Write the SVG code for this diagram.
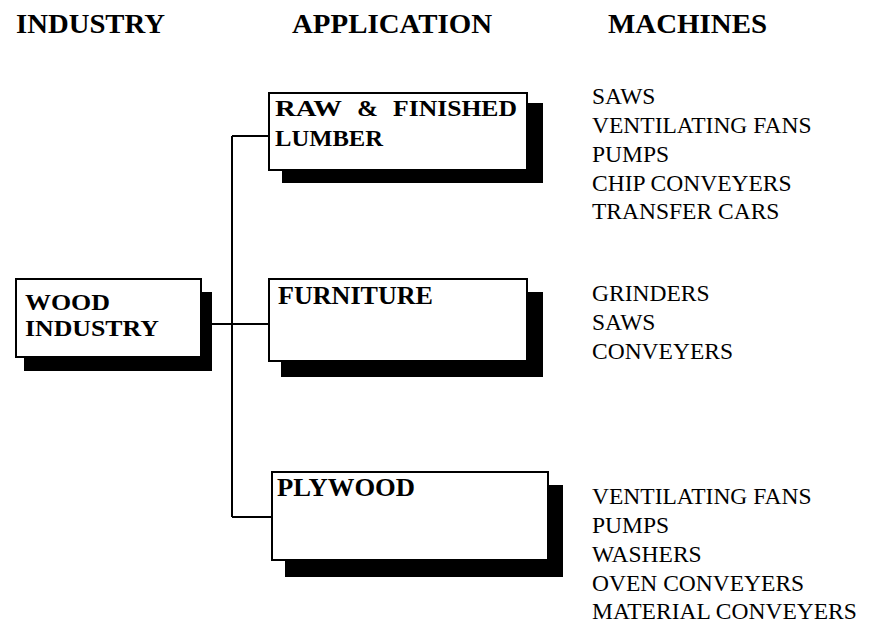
<svg xmlns="http://www.w3.org/2000/svg" width="870" height="625" viewBox="0 0 870 625">
<style>
.head{font-family:"Liberation Serif","Times New Roman",serif;font-weight:bold;font-size:28px;fill:#000}
.lbl{font-family:"Liberation Serif","Times New Roman",serif;font-weight:bold;font-size:26px;fill:#000}
.lbl2{font-family:"Liberation Serif","Times New Roman",serif;font-weight:bold;font-size:24px;fill:#000}
.mach{font-family:"Liberation Serif","Times New Roman",serif;font-size:23.5px;fill:#000}
.box{fill:#fff;stroke:#000;stroke-width:2}
.shadow{fill:#000}
.conn{fill:none;stroke:#000;stroke-width:2}
</style>
<rect width="870" height="625" fill="#fff"/>
<g id="headings">
<text class="head" x="16" y="33" textLength="149" lengthAdjust="spacingAndGlyphs">INDUSTRY</text>
<text class="head" x="292" y="33" textLength="200" lengthAdjust="spacingAndGlyphs">APPLICATION</text>
<text class="head" x="608" y="33" textLength="159" lengthAdjust="spacingAndGlyphs">MACHINES</text>
</g>
<g id="connectors">
<path class="conn" d="M232 136 V517"/>
<path class="conn" d="M232 136 H269"/>
<path class="conn" d="M212 324 H269"/>
<path class="conn" d="M232 517 H272"/>
</g>
<g id="wood-industry">
<rect class="shadow" x="24" y="292" width="188" height="79"/>
<rect class="box" x="16" y="279" width="185" height="78"/>
<text class="lbl2" x="25" y="310" textLength="85" lengthAdjust="spacingAndGlyphs">WOOD</text>
<text class="lbl2" x="25" y="336" textLength="134" lengthAdjust="spacingAndGlyphs">INDUSTRY</text>
</g>
<g id="raw-finished-lumber">
<rect class="shadow" x="282" y="103" width="261" height="80"/>
<rect class="box" x="269" y="93" width="258" height="77"/>
<text class="lbl2" y="116"><tspan x="275" textLength="67" lengthAdjust="spacingAndGlyphs">RAW</tspan><tspan x="357" textLength="21" lengthAdjust="spacingAndGlyphs">&amp;</tspan><tspan x="393" textLength="124" lengthAdjust="spacingAndGlyphs">FINISHED</tspan></text>
<text class="lbl2" x="275" y="146" textLength="108" lengthAdjust="spacingAndGlyphs">LUMBER</text>
</g>
<g id="furniture">
<rect class="shadow" x="281" y="292" width="262" height="85"/>
<rect class="box" x="269" y="279" width="258" height="82"/>
<text class="lbl" x="278" y="304" textLength="155" lengthAdjust="spacingAndGlyphs">FURNITURE</text>
</g>
<g id="plywood">
<rect class="shadow" x="285" y="485" width="278" height="92"/>
<rect class="box" x="272" y="472" width="276" height="88"/>
<text class="lbl" x="277" y="496" textLength="138" lengthAdjust="spacingAndGlyphs">PLYWOOD</text>
</g>
<g id="lumber-machines">
<text class="mach" x="592" y="104">SAWS</text>
<text class="mach" x="592" y="133">VENTILATING FANS</text>
<text class="mach" x="592" y="162">PUMPS</text>
<text class="mach" x="592" y="191">CHIP CONVEYERS</text>
<text class="mach" x="592" y="219">TRANSFER CARS</text>
</g>
<g id="furniture-machines">
<text class="mach" x="592" y="301">GRINDERS</text>
<text class="mach" x="592" y="330">SAWS</text>
<text class="mach" x="592" y="359">CONVEYERS</text>
</g>
<g id="plywood-machines">
<text class="mach" x="592" y="504">VENTILATING FANS</text>
<text class="mach" x="592" y="533">PUMPS</text>
<text class="mach" x="592" y="562">WASHERS</text>
<text class="mach" x="592" y="591">OVEN CONVEYERS</text>
<text class="mach" x="592" y="619">MATERIAL CONVEYERS</text>
</g>
</svg>
